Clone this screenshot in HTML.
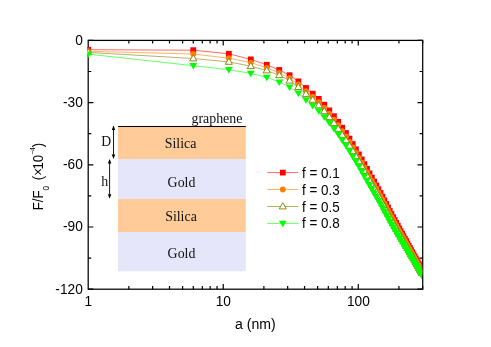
<!DOCTYPE html>
<html><head><meta charset="utf-8"><title>chart</title><style>svg{will-change:transform}html,body{margin:0;padding:0;background:#fff}body{width:491px;height:347px;overflow:hidden}</style></head><body>
<svg width="491" height="347" viewBox="0 0 491 347" style="display:block">
<rect width="491" height="347" fill="#fff"/>
<rect x="88.2" y="40.4" width="334.5" height="248.79999999999998" fill="none" stroke="#000" stroke-width="1.25"/>
<defs><clipPath id="c"><rect x="87.5" y="40.4" width="334.6" height="248.79999999999998"/></clipPath></defs>
<g clip-path="url(#c)">
<polyline points="88.20,49.70 193.28,50.20 228.83,53.80 250.80,59.40 266.75,64.80 279.27,70.00 289.59,75.20 298.36,81.40 305.98,88.00 312.73,93.70 318.78,98.90 324.27,104.70 329.28,110.40 333.90,116.20 338.19,121.80 342.18,127.70 345.91,133.00 349.43,138.60 352.74,144.10 355.88,149.30 358.86,154.40 361.69,159.40 364.39,164.20 366.98,168.90 369.45,173.40 371.83,177.60 374.11,181.60 376.30,185.50 378.42,189.30 380.47,193.00 382.44,196.70 384.35,200.40 386.20,204.00 387.99,207.50 389.73,211.00 391.42,214.13 393.07,217.17 394.67,220.13 396.22,223.01 397.74,225.82 399.21,228.54 400.65,231.17 402.06,233.74 403.43,236.24 404.78,238.69 406.09,241.08 407.37,243.42 408.63,245.71 409.86,247.95 411.06,250.15 412.24,252.30 413.40,254.40 414.53,256.46 415.65,258.48 416.74,260.46 417.81,262.41 418.86,264.32 419.90,266.17 420.91,267.90 421.91,269.60" fill="none" stroke="#ff0000" stroke-width="0.6"/>
<rect x="85.30" y="46.80" width="5.8" height="5.8" fill="#ff0000"/>
<rect x="190.38" y="47.30" width="5.8" height="5.8" fill="#ff0000"/>
<rect x="225.93" y="50.90" width="5.8" height="5.8" fill="#ff0000"/>
<rect x="247.90" y="56.50" width="5.8" height="5.8" fill="#ff0000"/>
<rect x="263.85" y="61.90" width="5.8" height="5.8" fill="#ff0000"/>
<rect x="276.37" y="67.10" width="5.8" height="5.8" fill="#ff0000"/>
<rect x="286.69" y="72.30" width="5.8" height="5.8" fill="#ff0000"/>
<rect x="295.46" y="78.50" width="5.8" height="5.8" fill="#ff0000"/>
<rect x="303.08" y="85.10" width="5.8" height="5.8" fill="#ff0000"/>
<rect x="309.83" y="90.80" width="5.8" height="5.8" fill="#ff0000"/>
<rect x="315.88" y="96.00" width="5.8" height="5.8" fill="#ff0000"/>
<rect x="321.37" y="101.80" width="5.8" height="5.8" fill="#ff0000"/>
<rect x="326.38" y="107.50" width="5.8" height="5.8" fill="#ff0000"/>
<rect x="331.00" y="113.30" width="5.8" height="5.8" fill="#ff0000"/>
<rect x="335.29" y="118.90" width="5.8" height="5.8" fill="#ff0000"/>
<rect x="339.28" y="124.80" width="5.8" height="5.8" fill="#ff0000"/>
<rect x="343.01" y="130.10" width="5.8" height="5.8" fill="#ff0000"/>
<rect x="346.53" y="135.70" width="5.8" height="5.8" fill="#ff0000"/>
<rect x="349.84" y="141.20" width="5.8" height="5.8" fill="#ff0000"/>
<rect x="352.98" y="146.40" width="5.8" height="5.8" fill="#ff0000"/>
<rect x="355.96" y="151.50" width="5.8" height="5.8" fill="#ff0000"/>
<rect x="358.79" y="156.50" width="5.8" height="5.8" fill="#ff0000"/>
<rect x="361.49" y="161.30" width="5.8" height="5.8" fill="#ff0000"/>
<rect x="364.08" y="166.00" width="5.8" height="5.8" fill="#ff0000"/>
<rect x="366.55" y="170.50" width="5.8" height="5.8" fill="#ff0000"/>
<rect x="368.93" y="174.70" width="5.8" height="5.8" fill="#ff0000"/>
<rect x="371.21" y="178.70" width="5.8" height="5.8" fill="#ff0000"/>
<rect x="373.40" y="182.60" width="5.8" height="5.8" fill="#ff0000"/>
<rect x="375.52" y="186.40" width="5.8" height="5.8" fill="#ff0000"/>
<rect x="377.57" y="190.10" width="5.8" height="5.8" fill="#ff0000"/>
<rect x="379.54" y="193.80" width="5.8" height="5.8" fill="#ff0000"/>
<rect x="381.45" y="197.50" width="5.8" height="5.8" fill="#ff0000"/>
<rect x="383.30" y="201.10" width="5.8" height="5.8" fill="#ff0000"/>
<rect x="385.09" y="204.60" width="5.8" height="5.8" fill="#ff0000"/>
<rect x="386.83" y="208.10" width="5.8" height="5.8" fill="#ff0000"/>
<rect x="388.52" y="211.23" width="5.8" height="5.8" fill="#ff0000"/>
<rect x="390.17" y="214.27" width="5.8" height="5.8" fill="#ff0000"/>
<rect x="391.77" y="217.23" width="5.8" height="5.8" fill="#ff0000"/>
<rect x="393.32" y="220.11" width="5.8" height="5.8" fill="#ff0000"/>
<rect x="394.84" y="222.92" width="5.8" height="5.8" fill="#ff0000"/>
<rect x="396.31" y="225.64" width="5.8" height="5.8" fill="#ff0000"/>
<rect x="397.75" y="228.27" width="5.8" height="5.8" fill="#ff0000"/>
<rect x="399.16" y="230.84" width="5.8" height="5.8" fill="#ff0000"/>
<rect x="400.53" y="233.34" width="5.8" height="5.8" fill="#ff0000"/>
<rect x="401.88" y="235.79" width="5.8" height="5.8" fill="#ff0000"/>
<rect x="403.19" y="238.18" width="5.8" height="5.8" fill="#ff0000"/>
<rect x="404.47" y="240.52" width="5.8" height="5.8" fill="#ff0000"/>
<rect x="405.73" y="242.81" width="5.8" height="5.8" fill="#ff0000"/>
<rect x="406.96" y="245.05" width="5.8" height="5.8" fill="#ff0000"/>
<rect x="408.16" y="247.25" width="5.8" height="5.8" fill="#ff0000"/>
<rect x="409.34" y="249.40" width="5.8" height="5.8" fill="#ff0000"/>
<rect x="410.50" y="251.50" width="5.8" height="5.8" fill="#ff0000"/>
<rect x="411.63" y="253.56" width="5.8" height="5.8" fill="#ff0000"/>
<rect x="412.75" y="255.58" width="5.8" height="5.8" fill="#ff0000"/>
<rect x="413.84" y="257.56" width="5.8" height="5.8" fill="#ff0000"/>
<rect x="414.91" y="259.51" width="5.8" height="5.8" fill="#ff0000"/>
<rect x="415.96" y="261.42" width="5.8" height="5.8" fill="#ff0000"/>
<rect x="417.00" y="263.27" width="5.8" height="5.8" fill="#ff0000"/>
<rect x="418.01" y="265.00" width="5.8" height="5.8" fill="#ff0000"/>
<rect x="419.01" y="266.70" width="5.8" height="5.8" fill="#ff0000"/>
<polyline points="88.20,51.30 193.28,54.00 228.83,58.20 250.80,62.60 266.75,67.80 279.27,72.90 289.59,78.21 298.36,84.50 305.98,91.15 312.73,96.90 318.78,102.14 324.27,107.98 329.28,113.71 333.90,119.54 338.19,125.17 342.18,131.10 345.91,136.40 349.43,142.00 352.74,147.50 355.88,152.70 358.86,157.79 361.69,162.75 364.39,167.51 366.98,172.17 369.45,176.64 371.83,180.80 374.11,184.77 376.30,188.64 378.42,192.41 380.47,196.08 382.44,199.75 384.35,203.42 386.20,206.99 387.99,210.43 389.73,213.88 391.42,216.96 393.07,219.95 394.67,222.86 396.22,225.70 397.74,228.46 399.21,231.12 400.65,233.64 402.06,236.10 403.43,238.49 404.78,240.84 406.09,243.13 407.37,245.37 408.63,247.57 409.86,249.71 411.06,251.82 412.24,253.89 413.40,255.96 414.53,257.98 415.65,259.97 416.74,261.92 417.81,263.83 418.86,265.71 419.90,267.53 420.91,269.23 421.91,270.90" fill="none" stroke="#ff8000" stroke-width="0.6"/>
<circle cx="88.20" cy="51.30" r="2.9" fill="#ff8000"/>
<circle cx="193.28" cy="54.00" r="2.9" fill="#ff8000"/>
<circle cx="228.83" cy="58.20" r="2.9" fill="#ff8000"/>
<circle cx="250.80" cy="62.60" r="2.9" fill="#ff8000"/>
<circle cx="266.75" cy="67.80" r="2.9" fill="#ff8000"/>
<circle cx="279.27" cy="72.90" r="2.9" fill="#ff8000"/>
<circle cx="289.59" cy="78.21" r="2.9" fill="#ff8000"/>
<circle cx="298.36" cy="84.50" r="2.9" fill="#ff8000"/>
<circle cx="305.98" cy="91.15" r="2.9" fill="#ff8000"/>
<circle cx="312.73" cy="96.90" r="2.9" fill="#ff8000"/>
<circle cx="318.78" cy="102.14" r="2.9" fill="#ff8000"/>
<circle cx="324.27" cy="107.98" r="2.9" fill="#ff8000"/>
<circle cx="329.28" cy="113.71" r="2.9" fill="#ff8000"/>
<circle cx="333.90" cy="119.54" r="2.9" fill="#ff8000"/>
<circle cx="338.19" cy="125.17" r="2.9" fill="#ff8000"/>
<circle cx="342.18" cy="131.10" r="2.9" fill="#ff8000"/>
<circle cx="345.91" cy="136.40" r="2.9" fill="#ff8000"/>
<circle cx="349.43" cy="142.00" r="2.9" fill="#ff8000"/>
<circle cx="352.74" cy="147.50" r="2.9" fill="#ff8000"/>
<circle cx="355.88" cy="152.70" r="2.9" fill="#ff8000"/>
<circle cx="358.86" cy="157.79" r="2.9" fill="#ff8000"/>
<circle cx="361.69" cy="162.75" r="2.9" fill="#ff8000"/>
<circle cx="364.39" cy="167.51" r="2.9" fill="#ff8000"/>
<circle cx="366.98" cy="172.17" r="2.9" fill="#ff8000"/>
<circle cx="369.45" cy="176.64" r="2.9" fill="#ff8000"/>
<circle cx="371.83" cy="180.80" r="2.9" fill="#ff8000"/>
<circle cx="374.11" cy="184.77" r="2.9" fill="#ff8000"/>
<circle cx="376.30" cy="188.64" r="2.9" fill="#ff8000"/>
<circle cx="378.42" cy="192.41" r="2.9" fill="#ff8000"/>
<circle cx="380.47" cy="196.08" r="2.9" fill="#ff8000"/>
<circle cx="382.44" cy="199.75" r="2.9" fill="#ff8000"/>
<circle cx="384.35" cy="203.42" r="2.9" fill="#ff8000"/>
<circle cx="386.20" cy="206.99" r="2.9" fill="#ff8000"/>
<circle cx="387.99" cy="210.43" r="2.9" fill="#ff8000"/>
<circle cx="389.73" cy="213.88" r="2.9" fill="#ff8000"/>
<circle cx="391.42" cy="216.96" r="2.9" fill="#ff8000"/>
<circle cx="393.07" cy="219.95" r="2.9" fill="#ff8000"/>
<circle cx="394.67" cy="222.86" r="2.9" fill="#ff8000"/>
<circle cx="396.22" cy="225.70" r="2.9" fill="#ff8000"/>
<circle cx="397.74" cy="228.46" r="2.9" fill="#ff8000"/>
<circle cx="399.21" cy="231.12" r="2.9" fill="#ff8000"/>
<circle cx="400.65" cy="233.64" r="2.9" fill="#ff8000"/>
<circle cx="402.06" cy="236.10" r="2.9" fill="#ff8000"/>
<circle cx="403.43" cy="238.49" r="2.9" fill="#ff8000"/>
<circle cx="404.78" cy="240.84" r="2.9" fill="#ff8000"/>
<circle cx="406.09" cy="243.13" r="2.9" fill="#ff8000"/>
<circle cx="407.37" cy="245.37" r="2.9" fill="#ff8000"/>
<circle cx="408.63" cy="247.57" r="2.9" fill="#ff8000"/>
<circle cx="409.86" cy="249.71" r="2.9" fill="#ff8000"/>
<circle cx="411.06" cy="251.82" r="2.9" fill="#ff8000"/>
<circle cx="412.24" cy="253.89" r="2.9" fill="#ff8000"/>
<circle cx="413.40" cy="255.96" r="2.9" fill="#ff8000"/>
<circle cx="414.53" cy="257.98" r="2.9" fill="#ff8000"/>
<circle cx="415.65" cy="259.97" r="2.9" fill="#ff8000"/>
<circle cx="416.74" cy="261.92" r="2.9" fill="#ff8000"/>
<circle cx="417.81" cy="263.83" r="2.9" fill="#ff8000"/>
<circle cx="418.86" cy="265.71" r="2.9" fill="#ff8000"/>
<circle cx="419.90" cy="267.53" r="2.9" fill="#ff8000"/>
<circle cx="420.91" cy="269.23" r="2.9" fill="#ff8000"/>
<circle cx="421.91" cy="270.90" r="2.9" fill="#ff8000"/>
<polyline points="88.20,52.40 193.28,58.50 228.83,61.90 250.80,66.20 266.75,70.50 279.27,75.30 289.59,80.72 298.36,87.10 305.98,93.98 312.73,99.92 318.78,105.35 324.27,111.35 329.28,117.23 333.90,123.20 338.19,128.95 342.18,135.00 345.91,140.23 349.43,145.76 352.74,151.20 355.88,156.34 358.86,161.39 361.69,166.34 364.39,171.09 366.98,175.74 369.45,180.20 371.83,184.35 374.11,188.31 376.30,192.17 378.42,195.93 380.47,199.60 382.44,203.26 384.35,206.93 386.20,210.48 387.99,213.88 389.73,217.29 391.42,220.33 393.07,223.29 394.67,226.16 396.22,228.96 397.74,231.68 399.21,234.31 400.65,236.76 402.06,239.15 403.43,241.49 404.78,243.77 406.09,246.00 407.37,248.19 408.63,250.32 409.86,252.41 411.06,254.46 412.24,256.48 413.40,258.52 414.53,260.51 415.65,262.46 416.74,264.38 417.81,266.26 418.86,268.10 419.90,269.89 420.91,271.56 421.91,273.20" fill="none" stroke="#808000" stroke-width="0.6"/>
<path d="M84.60 54.80L91.80 54.80L88.20 48.60Z" fill="#fff" stroke="#808000" stroke-width="0.9"/>
<path d="M189.68 60.90L196.88 60.90L193.28 54.70Z" fill="#fff" stroke="#808000" stroke-width="0.9"/>
<path d="M225.23 64.30L232.43 64.30L228.83 58.10Z" fill="#fff" stroke="#808000" stroke-width="0.9"/>
<path d="M247.20 68.60L254.40 68.60L250.80 62.40Z" fill="#fff" stroke="#808000" stroke-width="0.9"/>
<path d="M263.15 72.90L270.35 72.90L266.75 66.70Z" fill="#fff" stroke="#808000" stroke-width="0.9"/>
<path d="M275.67 77.70L282.87 77.70L279.27 71.50Z" fill="#fff" stroke="#808000" stroke-width="0.9"/>
<path d="M285.99 83.12L293.19 83.12L289.59 76.92Z" fill="#fff" stroke="#808000" stroke-width="0.9"/>
<path d="M294.76 89.50L301.96 89.50L298.36 83.30Z" fill="#fff" stroke="#808000" stroke-width="0.9"/>
<path d="M302.38 96.38L309.58 96.38L305.98 90.18Z" fill="#fff" stroke="#808000" stroke-width="0.9"/>
<path d="M309.13 102.32L316.33 102.32L312.73 96.12Z" fill="#fff" stroke="#808000" stroke-width="0.9"/>
<path d="M315.18 107.75L322.38 107.75L318.78 101.55Z" fill="#fff" stroke="#808000" stroke-width="0.9"/>
<path d="M320.67 113.75L327.87 113.75L324.27 107.55Z" fill="#fff" stroke="#808000" stroke-width="0.9"/>
<path d="M325.68 119.63L332.88 119.63L329.28 113.43Z" fill="#fff" stroke="#808000" stroke-width="0.9"/>
<path d="M330.30 125.60L337.50 125.60L333.90 119.40Z" fill="#fff" stroke="#808000" stroke-width="0.9"/>
<path d="M334.59 131.35L341.79 131.35L338.19 125.15Z" fill="#fff" stroke="#808000" stroke-width="0.9"/>
<path d="M338.58 137.40L345.78 137.40L342.18 131.20Z" fill="#fff" stroke="#808000" stroke-width="0.9"/>
<path d="M342.31 142.63L349.51 142.63L345.91 136.43Z" fill="#fff" stroke="#808000" stroke-width="0.9"/>
<path d="M345.83 148.16L353.03 148.16L349.43 141.96Z" fill="#fff" stroke="#808000" stroke-width="0.9"/>
<path d="M349.14 153.60L356.34 153.60L352.74 147.40Z" fill="#fff" stroke="#808000" stroke-width="0.9"/>
<path d="M352.28 158.74L359.48 158.74L355.88 152.54Z" fill="#fff" stroke="#808000" stroke-width="0.9"/>
<path d="M355.26 163.79L362.46 163.79L358.86 157.59Z" fill="#fff" stroke="#808000" stroke-width="0.9"/>
<path d="M358.09 168.74L365.29 168.74L361.69 162.54Z" fill="#fff" stroke="#808000" stroke-width="0.9"/>
<path d="M360.79 173.49L367.99 173.49L364.39 167.29Z" fill="#fff" stroke="#808000" stroke-width="0.9"/>
<path d="M363.38 178.14L370.58 178.14L366.98 171.94Z" fill="#fff" stroke="#808000" stroke-width="0.9"/>
<path d="M365.85 182.60L373.05 182.60L369.45 176.40Z" fill="#fff" stroke="#808000" stroke-width="0.9"/>
<path d="M368.23 186.75L375.43 186.75L371.83 180.55Z" fill="#fff" stroke="#808000" stroke-width="0.9"/>
<path d="M370.51 190.71L377.71 190.71L374.11 184.51Z" fill="#fff" stroke="#808000" stroke-width="0.9"/>
<path d="M372.70 194.57L379.90 194.57L376.30 188.37Z" fill="#fff" stroke="#808000" stroke-width="0.9"/>
<path d="M374.82 198.33L382.02 198.33L378.42 192.13Z" fill="#fff" stroke="#808000" stroke-width="0.9"/>
<path d="M376.87 202.00L384.07 202.00L380.47 195.80Z" fill="#fff" stroke="#808000" stroke-width="0.9"/>
<path d="M378.84 205.66L386.04 205.66L382.44 199.46Z" fill="#fff" stroke="#808000" stroke-width="0.9"/>
<path d="M380.75 209.33L387.95 209.33L384.35 203.13Z" fill="#fff" stroke="#808000" stroke-width="0.9"/>
<path d="M382.60 212.88L389.80 212.88L386.20 206.68Z" fill="#fff" stroke="#808000" stroke-width="0.9"/>
<path d="M384.39 216.28L391.59 216.28L387.99 210.08Z" fill="#fff" stroke="#808000" stroke-width="0.9"/>
<path d="M386.13 219.69L393.33 219.69L389.73 213.49Z" fill="#fff" stroke="#808000" stroke-width="0.9"/>
<path d="M387.82 222.73L395.02 222.73L391.42 216.53Z" fill="#fff" stroke="#808000" stroke-width="0.9"/>
<path d="M389.47 225.69L396.67 225.69L393.07 219.49Z" fill="#fff" stroke="#808000" stroke-width="0.9"/>
<path d="M391.07 228.56L398.27 228.56L394.67 222.36Z" fill="#fff" stroke="#808000" stroke-width="0.9"/>
<path d="M392.62 231.36L399.82 231.36L396.22 225.16Z" fill="#fff" stroke="#808000" stroke-width="0.9"/>
<path d="M394.14 234.08L401.34 234.08L397.74 227.88Z" fill="#fff" stroke="#808000" stroke-width="0.9"/>
<path d="M395.61 236.71L402.81 236.71L399.21 230.51Z" fill="#fff" stroke="#808000" stroke-width="0.9"/>
<path d="M397.05 239.16L404.25 239.16L400.65 232.96Z" fill="#fff" stroke="#808000" stroke-width="0.9"/>
<path d="M398.46 241.55L405.66 241.55L402.06 235.35Z" fill="#fff" stroke="#808000" stroke-width="0.9"/>
<path d="M399.83 243.89L407.03 243.89L403.43 237.69Z" fill="#fff" stroke="#808000" stroke-width="0.9"/>
<path d="M401.18 246.17L408.38 246.17L404.78 239.97Z" fill="#fff" stroke="#808000" stroke-width="0.9"/>
<path d="M402.49 248.40L409.69 248.40L406.09 242.20Z" fill="#fff" stroke="#808000" stroke-width="0.9"/>
<path d="M403.77 250.59L410.97 250.59L407.37 244.39Z" fill="#fff" stroke="#808000" stroke-width="0.9"/>
<path d="M405.03 252.72L412.23 252.72L408.63 246.52Z" fill="#fff" stroke="#808000" stroke-width="0.9"/>
<path d="M406.26 254.81L413.46 254.81L409.86 248.61Z" fill="#fff" stroke="#808000" stroke-width="0.9"/>
<path d="M407.46 256.86L414.66 256.86L411.06 250.66Z" fill="#fff" stroke="#808000" stroke-width="0.9"/>
<path d="M408.64 258.88L415.84 258.88L412.24 252.68Z" fill="#fff" stroke="#808000" stroke-width="0.9"/>
<path d="M409.80 260.92L417.00 260.92L413.40 254.72Z" fill="#fff" stroke="#808000" stroke-width="0.9"/>
<path d="M410.93 262.91L418.13 262.91L414.53 256.71Z" fill="#fff" stroke="#808000" stroke-width="0.9"/>
<path d="M412.05 264.86L419.25 264.86L415.65 258.66Z" fill="#fff" stroke="#808000" stroke-width="0.9"/>
<path d="M413.14 266.78L420.34 266.78L416.74 260.58Z" fill="#fff" stroke="#808000" stroke-width="0.9"/>
<path d="M414.21 268.66L421.41 268.66L417.81 262.46Z" fill="#fff" stroke="#808000" stroke-width="0.9"/>
<path d="M415.26 270.50L422.46 270.50L418.86 264.30Z" fill="#fff" stroke="#808000" stroke-width="0.9"/>
<path d="M416.30 272.29L423.50 272.29L419.90 266.09Z" fill="#fff" stroke="#808000" stroke-width="0.9"/>
<path d="M417.31 273.96L424.51 273.96L420.91 267.76Z" fill="#fff" stroke="#808000" stroke-width="0.9"/>
<path d="M418.31 275.60L425.51 275.60L421.91 269.40Z" fill="#fff" stroke="#808000" stroke-width="0.9"/>
<polyline points="88.20,54.10 193.28,65.70 228.83,69.70 250.80,73.40 266.75,77.30 279.27,82.00 289.59,87.04 298.36,93.10 305.98,99.82 312.73,105.63 318.78,110.93 324.27,116.81 329.28,122.59 333.90,128.47 338.19,134.14 342.18,140.10 345.91,145.31 349.43,150.82 352.74,156.24 355.88,161.36 358.86,166.38 361.69,171.28 364.39,175.98 366.98,180.58 369.45,184.99 371.83,189.11 374.11,193.03 376.30,196.85 378.42,200.57 380.47,204.19 382.44,207.82 384.35,211.45 386.20,214.95 387.99,218.20 389.73,221.46 391.42,224.36 393.07,227.18 394.67,229.92 396.22,232.58 397.74,235.18 399.21,237.69 400.65,240.08 402.06,242.41 403.43,244.68 404.78,246.90 406.09,249.07 407.37,251.20 408.63,253.28 409.86,255.31 411.06,257.31 412.24,259.27 413.40,261.23 414.53,263.15 415.65,265.04 416.74,266.89 417.81,268.71 418.86,270.49 419.90,272.21 420.91,273.82 421.91,275.40" fill="none" stroke="#00ff00" stroke-width="0.6"/>
<path d="M84.30 51.50L92.10 51.50L88.20 58.00Z" fill="#00ff00"/>
<path d="M189.38 63.10L197.18 63.10L193.28 69.60Z" fill="#00ff00"/>
<path d="M224.93 67.10L232.73 67.10L228.83 73.60Z" fill="#00ff00"/>
<path d="M246.90 70.80L254.70 70.80L250.80 77.30Z" fill="#00ff00"/>
<path d="M262.85 74.70L270.65 74.70L266.75 81.20Z" fill="#00ff00"/>
<path d="M275.37 79.40L283.17 79.40L279.27 85.90Z" fill="#00ff00"/>
<path d="M285.69 84.44L293.49 84.44L289.59 90.94Z" fill="#00ff00"/>
<path d="M294.46 90.50L302.26 90.50L298.36 97.00Z" fill="#00ff00"/>
<path d="M302.08 97.22L309.88 97.22L305.98 103.72Z" fill="#00ff00"/>
<path d="M308.83 103.03L316.63 103.03L312.73 109.53Z" fill="#00ff00"/>
<path d="M314.88 108.33L322.68 108.33L318.78 114.83Z" fill="#00ff00"/>
<path d="M320.37 114.21L328.17 114.21L324.27 120.71Z" fill="#00ff00"/>
<path d="M325.38 119.99L333.18 119.99L329.28 126.49Z" fill="#00ff00"/>
<path d="M330.00 125.87L337.80 125.87L333.90 132.37Z" fill="#00ff00"/>
<path d="M334.29 131.54L342.09 131.54L338.19 138.04Z" fill="#00ff00"/>
<path d="M338.28 137.50L346.08 137.50L342.18 144.00Z" fill="#00ff00"/>
<path d="M342.01 142.71L349.81 142.71L345.91 149.21Z" fill="#00ff00"/>
<path d="M345.53 148.22L353.33 148.22L349.43 154.72Z" fill="#00ff00"/>
<path d="M348.84 153.64L356.64 153.64L352.74 160.14Z" fill="#00ff00"/>
<path d="M351.98 158.76L359.78 158.76L355.88 165.26Z" fill="#00ff00"/>
<path d="M354.96 163.78L362.76 163.78L358.86 170.28Z" fill="#00ff00"/>
<path d="M357.79 168.68L365.59 168.68L361.69 175.18Z" fill="#00ff00"/>
<path d="M360.49 173.38L368.29 173.38L364.39 179.88Z" fill="#00ff00"/>
<path d="M363.08 177.98L370.88 177.98L366.98 184.48Z" fill="#00ff00"/>
<path d="M365.55 182.39L373.35 182.39L369.45 188.89Z" fill="#00ff00"/>
<path d="M367.93 186.51L375.73 186.51L371.83 193.01Z" fill="#00ff00"/>
<path d="M370.21 190.43L378.01 190.43L374.11 196.93Z" fill="#00ff00"/>
<path d="M372.40 194.25L380.20 194.25L376.30 200.75Z" fill="#00ff00"/>
<path d="M374.52 197.97L382.32 197.97L378.42 204.47Z" fill="#00ff00"/>
<path d="M376.57 201.59L384.37 201.59L380.47 208.09Z" fill="#00ff00"/>
<path d="M378.54 205.22L386.34 205.22L382.44 211.72Z" fill="#00ff00"/>
<path d="M380.45 208.85L388.25 208.85L384.35 215.35Z" fill="#00ff00"/>
<path d="M382.30 212.35L390.10 212.35L386.20 218.85Z" fill="#00ff00"/>
<path d="M384.09 215.60L391.89 215.60L387.99 222.10Z" fill="#00ff00"/>
<path d="M385.83 218.86L393.63 218.86L389.73 225.36Z" fill="#00ff00"/>
<path d="M387.52 221.76L395.32 221.76L391.42 228.26Z" fill="#00ff00"/>
<path d="M389.17 224.58L396.97 224.58L393.07 231.08Z" fill="#00ff00"/>
<path d="M390.77 227.32L398.57 227.32L394.67 233.82Z" fill="#00ff00"/>
<path d="M392.32 229.98L400.12 229.98L396.22 236.48Z" fill="#00ff00"/>
<path d="M393.84 232.58L401.64 232.58L397.74 239.08Z" fill="#00ff00"/>
<path d="M395.31 235.09L403.11 235.09L399.21 241.59Z" fill="#00ff00"/>
<path d="M396.75 237.48L404.55 237.48L400.65 243.98Z" fill="#00ff00"/>
<path d="M398.16 239.81L405.96 239.81L402.06 246.31Z" fill="#00ff00"/>
<path d="M399.53 242.08L407.33 242.08L403.43 248.58Z" fill="#00ff00"/>
<path d="M400.88 244.30L408.68 244.30L404.78 250.80Z" fill="#00ff00"/>
<path d="M402.19 246.47L409.99 246.47L406.09 252.97Z" fill="#00ff00"/>
<path d="M403.47 248.60L411.27 248.60L407.37 255.10Z" fill="#00ff00"/>
<path d="M404.73 250.68L412.53 250.68L408.63 257.18Z" fill="#00ff00"/>
<path d="M405.96 252.71L413.76 252.71L409.86 259.21Z" fill="#00ff00"/>
<path d="M407.16 254.71L414.96 254.71L411.06 261.21Z" fill="#00ff00"/>
<path d="M408.34 256.67L416.14 256.67L412.24 263.17Z" fill="#00ff00"/>
<path d="M409.50 258.63L417.30 258.63L413.40 265.13Z" fill="#00ff00"/>
<path d="M410.63 260.55L418.43 260.55L414.53 267.05Z" fill="#00ff00"/>
<path d="M411.75 262.44L419.55 262.44L415.65 268.94Z" fill="#00ff00"/>
<path d="M412.84 264.29L420.64 264.29L416.74 270.79Z" fill="#00ff00"/>
<path d="M413.91 266.11L421.71 266.11L417.81 272.61Z" fill="#00ff00"/>
<path d="M414.96 267.89L422.76 267.89L418.86 274.39Z" fill="#00ff00"/>
<path d="M416.00 269.61L423.80 269.61L419.90 276.11Z" fill="#00ff00"/>
<path d="M417.01 271.22L424.81 271.22L420.91 277.72Z" fill="#00ff00"/>
<path d="M418.01 272.80L425.81 272.80L421.91 279.30Z" fill="#00ff00"/>
</g>
<rect x="118.0" y="127.0" width="127.80000000000001" height="32.0" fill="#ffcc99"/>
<text x="180.6" y="148.0" font-family="Liberation Serif, serif" font-size="13.9" text-anchor="middle" fill="#111">Silica</text>
<rect x="118.0" y="159.0" width="127.80000000000001" height="40.0" fill="#e6e6fa"/>
<text x="181.5" y="186.5" font-family="Liberation Serif, serif" font-size="13.9" text-anchor="middle" fill="#111">Gold</text>
<rect x="118.0" y="199.0" width="127.80000000000001" height="33.0" fill="#ffcc99"/>
<text x="181.0" y="221.2" font-family="Liberation Serif, serif" font-size="13.9" text-anchor="middle" fill="#111">Silica</text>
<rect x="118.0" y="232.0" width="127.80000000000001" height="39.30000000000001" fill="#e6e6fa"/>
<text x="181.5" y="257.9" font-family="Liberation Serif, serif" font-size="13.9" text-anchor="middle" fill="#111">Gold</text>
<line x1="118.0" y1="126.5" x2="245.8" y2="126.5" stroke="#000" stroke-width="1.05"/>
<text x="242.4" y="122.6" font-family="Liberation Serif, serif" font-size="13.9" text-anchor="end" fill="#111">graphene</text>
<text x="101.2" y="146.0" font-family="Liberation Serif, serif" font-size="13.7" fill="#111">D</text>
<text x="101.2" y="185.9" font-family="Liberation Serif, serif" font-size="13.9" fill="#111">h</text>
<line x1="113.5" y1="126.6" x2="113.5" y2="158.0" stroke="#000" stroke-width="0.9"/><path d="M113.5 125.6l-1.75 4.4h3.5z M113.5 159.0l-1.75 -4.4h3.5z" fill="#000"/>
<line x1="109.6" y1="160.0" x2="109.6" y2="197.6" stroke="#000" stroke-width="0.9"/><path d="M109.6 159.0l-1.75 4.4h3.5z M109.6 198.6l-1.75 -4.4h3.5z" fill="#000"/>
<line x1="267.2" y1="172.6" x2="298.3" y2="172.6" stroke="#ff0000" stroke-width="0.6"/>
<rect x="279.90" y="169.70" width="5.8" height="5.8" fill="#ff0000"/>
<text transform="translate(302.00,177.60) scale(0.946,1)" font-family="Liberation Sans, sans-serif" font-size="14.2" text-anchor="start" fill="#000">f = 0.1</text>
<line x1="267.2" y1="189.5" x2="298.3" y2="189.5" stroke="#ff8000" stroke-width="0.6"/>
<circle cx="282.80" cy="189.50" r="2.9" fill="#ff8000"/>
<text transform="translate(302.00,194.50) scale(0.946,1)" font-family="Liberation Sans, sans-serif" font-size="14.2" text-anchor="start" fill="#000">f = 0.3</text>
<line x1="267.2" y1="206.5" x2="298.3" y2="206.5" stroke="#808000" stroke-width="0.6"/>
<path d="M279.20 208.90L286.40 208.90L282.80 202.70Z" fill="#fff" stroke="#808000" stroke-width="0.9"/>
<text transform="translate(302.00,211.50) scale(0.946,1)" font-family="Liberation Sans, sans-serif" font-size="14.2" text-anchor="start" fill="#000">f = 0.5</text>
<line x1="267.2" y1="223.4" x2="298.3" y2="223.4" stroke="#00ff00" stroke-width="0.6"/>
<path d="M278.90 220.80L286.70 220.80L282.80 227.30Z" fill="#00ff00"/>
<text transform="translate(302.00,228.40) scale(0.946,1)" font-family="Liberation Sans, sans-serif" font-size="14.2" text-anchor="start" fill="#000">f = 0.8</text>
<path d="M88.2 40.40h5.2 M422.7 40.40h-5.2 M88.2 71.50h3.1 M422.7 71.50h-3.1 M88.2 102.60h5.2 M422.7 102.60h-5.2 M88.2 133.70h3.1 M422.7 133.70h-3.1 M88.2 164.80h5.2 M422.7 164.80h-5.2 M88.2 195.90h3.1 M422.7 195.90h-3.1 M88.2 227.00h5.2 M422.7 227.00h-5.2 M88.2 258.10h3.1 M422.7 258.10h-3.1 M88.2 289.20h5.2 M422.7 289.20h-5.2 M128.85 289.2v-3.1 M128.85 40.4v3.1 M152.63 289.2v-3.1 M152.63 40.4v3.1 M169.50 289.2v-3.1 M169.50 40.4v3.1 M182.59 289.2v-3.1 M182.59 40.4v3.1 M193.28 289.2v-3.1 M193.28 40.4v3.1 M202.32 289.2v-3.1 M202.32 40.4v3.1 M210.15 289.2v-3.1 M210.15 40.4v3.1 M217.06 289.2v-3.1 M217.06 40.4v3.1 M223.24 289.2v-5.2 M223.24 40.4v5.2 M263.89 289.2v-3.1 M263.89 40.4v3.1 M287.66 289.2v-3.1 M287.66 40.4v3.1 M304.54 289.2v-3.1 M304.54 40.4v3.1 M317.62 289.2v-3.1 M317.62 40.4v3.1 M328.31 289.2v-3.1 M328.31 40.4v3.1 M337.35 289.2v-3.1 M337.35 40.4v3.1 M345.19 289.2v-3.1 M345.19 40.4v3.1 M352.09 289.2v-3.1 M352.09 40.4v3.1 M358.27 289.2v-5.2 M358.27 40.4v5.2 M398.92 289.2v-3.1 M398.92 40.4v3.1 M422.70 289.2v-3.1 M422.70 40.4v3.1" stroke="#000" stroke-width="1.2" fill="none"/>
<text transform="translate(82.80,44.50) scale(0.98,1)" font-family="Liberation Sans, sans-serif" font-size="14.0" text-anchor="end" fill="#000">0</text>
<text transform="translate(82.80,106.80) scale(0.98,1)" font-family="Liberation Sans, sans-serif" font-size="14.0" text-anchor="end" fill="#000">-30</text>
<text transform="translate(82.80,169.10) scale(0.98,1)" font-family="Liberation Sans, sans-serif" font-size="14.0" text-anchor="end" fill="#000">-60</text>
<text transform="translate(82.80,231.40) scale(0.98,1)" font-family="Liberation Sans, sans-serif" font-size="14.0" text-anchor="end" fill="#000">-90</text>
<text transform="translate(82.80,293.70) scale(0.98,1)" font-family="Liberation Sans, sans-serif" font-size="14.0" text-anchor="end" fill="#000">-120</text>
<text transform="translate(88.30,305.60) scale(0.98,1)" font-family="Liberation Sans, sans-serif" font-size="14.0" text-anchor="middle" fill="#000">1</text>
<text transform="translate(223.34,305.60) scale(0.98,1)" font-family="Liberation Sans, sans-serif" font-size="14.0" text-anchor="middle" fill="#000">10</text>
<text transform="translate(358.37,305.60) scale(0.98,1)" font-family="Liberation Sans, sans-serif" font-size="14.0" text-anchor="middle" fill="#000">100</text>
<text transform="translate(255.30,328.60) scale(0.965,1)" font-family="Liberation Sans, sans-serif" font-size="14.6" text-anchor="middle" fill="#000">a (nm)</text>
<text transform="translate(43.30,210.20) rotate(-90) scale(0.93,1)" font-family="Liberation Sans, sans-serif" font-size="14.2" text-anchor="start" fill="#000">F/F<tspan font-size="8.6" dy="5.4">0</tspan><tspan dy="-5.4" dx="2.2"> (×</tspan><tspan dx="-1.5">10</tspan><tspan font-size="7.2" dy="-7.9">−4</tspan><tspan dy="7.9">)</tspan></text>
</svg>
</body></html>
